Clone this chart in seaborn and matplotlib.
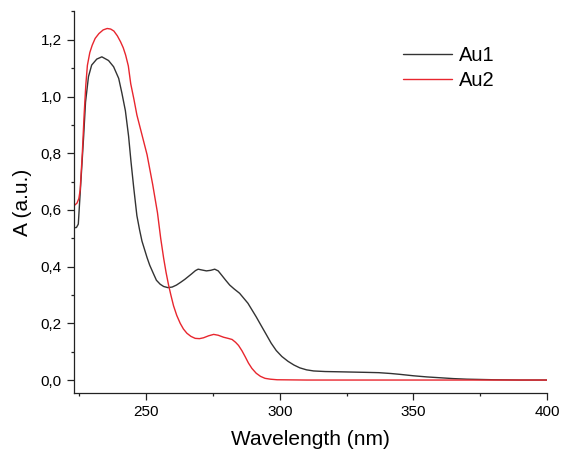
import pandas as pd
import matplotlib
matplotlib.use('Agg')
import matplotlib.pyplot as plt
from matplotlib.ticker import MultipleLocator, FuncFormatter
import seaborn as sns

# values
au1_wl = [223.0, 224.0, 224.7, 225.4, 226.7, 227.4, 228.5, 229.7, 231.6, 233.5,
          236.0, 237.9, 239.8, 241.0, 242.3, 243.5, 244.4, 245.4, 246.6, 247.6,
          248.5, 250.4, 251.4, 252.8, 253.9, 255.3, 256.6, 258.2, 259.8, 261.4,
          263.0, 264.5, 267.0, 268.5, 269.5, 271.0, 272.6, 274.2, 275.7, 277.0,
          278.2, 279.8, 281.3, 283.0, 285.0, 288.1, 291.2, 293.0, 295.0, 296.8,
          298.7, 300.8, 303.1, 305.3, 307.5, 310.0, 312.7, 317.0, 322.6, 332.6,
          337.0, 341.6, 345.0, 350.0, 355.0, 360.0, 365.0, 370.0, 380.0, 390.0,
          400.0]
au1_abs = [0.537, 0.538, 0.550, 0.659, 0.860, 0.980, 1.070, 1.111, 1.132, 1.140,
           1.127, 1.105, 1.064, 1.012, 0.950, 0.860, 0.770, 0.680, 0.580, 0.530,
           0.490, 0.432, 0.405, 0.375, 0.352, 0.338, 0.330, 0.326, 0.328, 0.335,
           0.345, 0.355, 0.374, 0.386, 0.391, 0.388, 0.385, 0.387, 0.391, 0.385,
           0.371, 0.352, 0.335, 0.321, 0.306, 0.271, 0.223, 0.193, 0.160, 0.130,
           0.104, 0.083, 0.066, 0.053, 0.043, 0.036, 0.032, 0.030, 0.029, 0.027,
           0.026, 0.023, 0.020, 0.015, 0.011, 0.008, 0.005, 0.003, 0.001, 0.000,
           0.000]

au2_wl = [223.0, 224.2, 224.9, 225.4, 226.2, 226.9, 227.5, 228.1, 229.0, 229.9,
          231.0, 232.4, 234.0, 235.5, 236.8, 238.0, 239.3, 240.5, 241.5, 242.4,
          243.4, 244.3, 245.5, 246.6, 248.5, 250.4, 252.5, 254.3, 255.5, 256.6,
          257.5, 258.4, 259.3, 260.3, 261.5, 262.8, 264.0, 265.3, 266.8, 268.4,
          270.0, 271.5, 273.4, 275.3, 277.0, 279.0, 280.7, 282.2, 283.5, 284.6,
          285.9, 287.1, 288.3, 289.6, 291.2, 292.8, 294.5, 296.5, 299.0, 310.0,
          350.0, 400.0]
au2_abs = [0.614, 0.624, 0.640, 0.670, 0.800, 0.940, 1.040, 1.110, 1.155, 1.181,
           1.205, 1.222, 1.235, 1.240, 1.238, 1.231, 1.214, 1.193, 1.172, 1.146,
           1.108, 1.045, 0.990, 0.935, 0.865, 0.795, 0.690, 0.590, 0.500, 0.430,
           0.380, 0.337, 0.300, 0.262, 0.228, 0.200, 0.180, 0.165, 0.154, 0.147,
           0.146, 0.149, 0.156, 0.161, 0.158, 0.151, 0.147, 0.143, 0.133, 0.122,
           0.103, 0.082, 0.060, 0.041, 0.024, 0.013, 0.006, 0.003, 0.001, 0.000,
           0.000, 0.000]

sample_names = ['Au1', 'Au2']
line_colors = ['#333333', '#e8262e']

df = pd.concat([
    pd.DataFrame({'wl': au1_wl, 'A': au1_abs, 'sample': 'Au1'}),
    pd.DataFrame({'wl': au2_wl, 'A': au2_abs, 'sample': 'Au2'}),
])

sns.set_style('ticks')
plt.rcParams['font.family'] = ['Liberation Sans', 'DejaVu Sans']
plt.rcParams['text.color'] = 'black'
plt.rcParams['axes.labelcolor'] = 'black'
plt.rcParams['xtick.color'] = 'black'
plt.rcParams['ytick.color'] = 'black'

fig = plt.figure(figsize=(5.63, 4.59), dpi=100)
ax = fig.add_axes([0.131, 0.143, 0.841, 0.832])

sns.lineplot(data=df, x='wl', y='A', hue='sample', hue_order=sample_names,
             palette=line_colors, linewidth=1.0, ax=ax, sort=True)

ax.set_xlim(223, 400)
ax.set_ylim(-0.047, 1.30)
ax.xaxis.set_major_locator(MultipleLocator(50))
ax.xaxis.set_minor_locator(MultipleLocator(25))
ax.yaxis.set_major_locator(MultipleLocator(0.2))
ax.yaxis.set_minor_locator(MultipleLocator(0.1))
ax.yaxis.set_major_formatter(FuncFormatter(lambda v, p: f'{v:.1f}'.replace('.', ',')))

for side in ['left', 'bottom']:
    ax.spines[side].set_linewidth(0.9)
    ax.spines[side].set_color('#222222')
sns.despine(ax=ax)
ax.tick_params(which='major', length=5, width=0.9, color='#222222', labelsize=11,
               labelcolor='black')
ax.tick_params(which='minor', length=2.5, width=0.9, color='#222222')

ax.set_xlabel('Wavelength (nm)', fontsize=15, labelpad=8, color='black')
ax.set_ylabel('A (a.u.)', fontsize=15, labelpad=6, color='black')

leg = ax.legend(loc='upper left', bbox_to_anchor=(0.675, 0.935), frameon=False,
                fontsize=14.5, handlelength=2.4, handletextpad=0.35,
                labelspacing=0.3, borderpad=0)
for t in leg.get_texts():
    t.set_color('black')
for h in leg.get_lines():
    h.set_linewidth(1.0)

plt.savefig('out.png', dpi=100)
